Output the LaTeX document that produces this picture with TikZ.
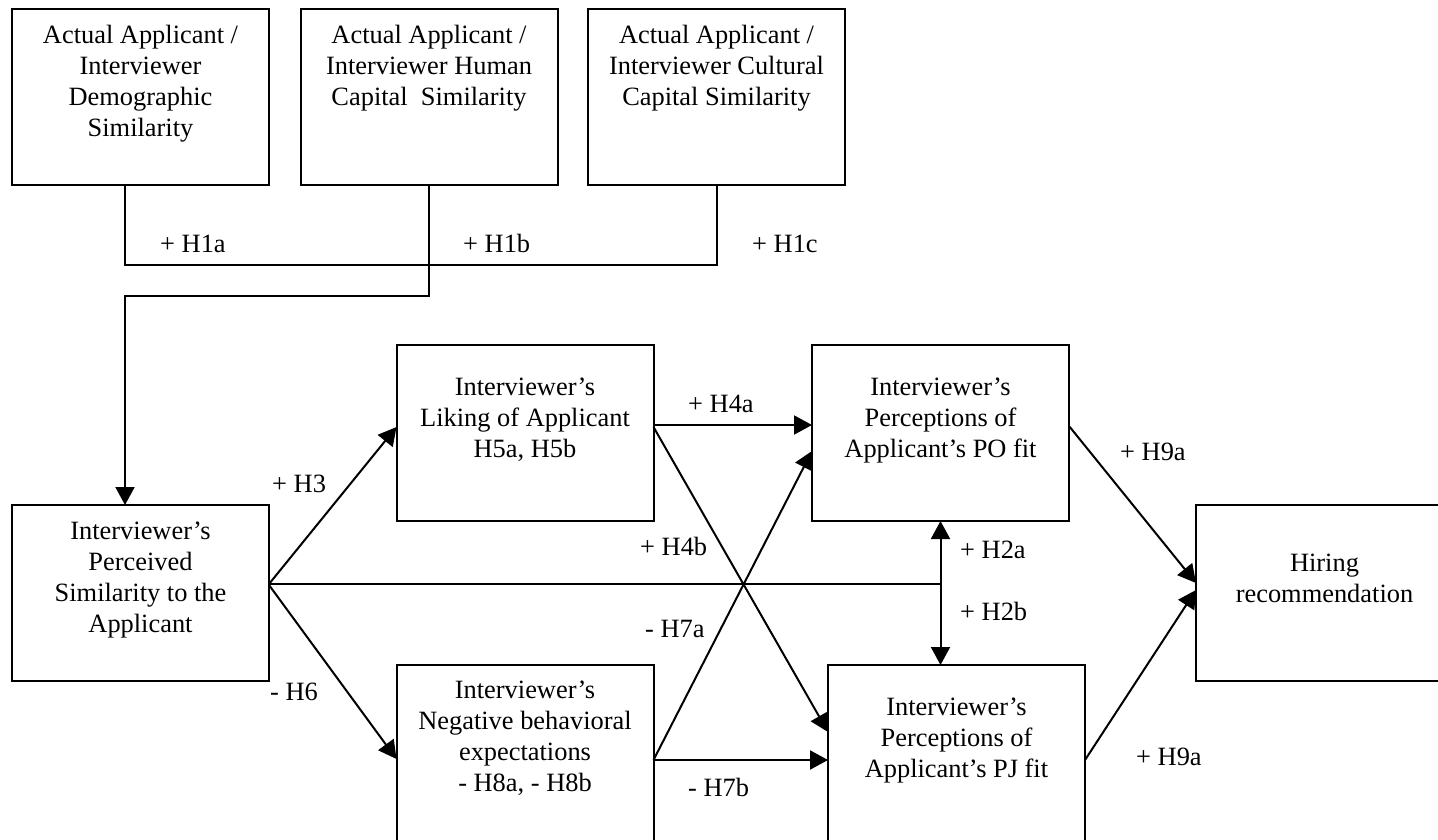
\documentclass[tikz,border=0pt]{standalone}
\usepackage{fontspec}
\setmainfont{Liberation Serif}
\usetikzlibrary{arrows.meta}
\begin{document}
\begin{tikzpicture}[x=1pt,y=-1pt,
  box/.style={draw, line width=2pt, minimum width=257pt, minimum height=176pt, inner sep=0pt, outer sep=0pt},
  txt/.style={font=\fontsize{26.4}{31}\selectfont, align=center, inner sep=0pt, anchor=north},
  lab/.style={font=\fontsize{26.4}{31}\selectfont, inner sep=0pt, anchor=base west},
  con/.style={line width=2pt},
  arr/.style={con, -{Triangle[length=18pt,width=19pt]}}]
\useasboundingbox (0,0) rectangle (1438,840);
\clip (0,0) rectangle (1438,840);
% boxes
\node[box] (A) at (140.5,97) {};
\node[box] (B) at (429,97) {};
\node[box] (C) at (716.5,97) {};
\node[box] (Perc) at (140.5,593) {};
\node[box] (Liking) at (525,433) {};
\node[box] (PO) at (940.5,433) {};
\node[box] (Neg) at (525,753) {};
\node[box] (PJ) at (956.5,753) {};
\node[box] (Hiring) at (1324.5,593) {};
% box texts
\node[txt] (At) at ([yshift=-12.3pt]A.north) {\strut Actual Applicant /\\Interviewer\\Demographic\\Similarity};
\node[txt] (Bt) at ([yshift=-12.3pt]B.north) {\strut Actual Applicant /\\Interviewer Human\\Capital\ \ Similarity};
\node[txt] (Ct) at ([yshift=-12.3pt]C.north) {\strut Actual Applicant /\\Interviewer Cultural\\Capital Similarity};
\node[txt] (Perct) at ([yshift=-12.3pt]Perc.north) {\strut Interviewer’s\\Perceived\\Similarity to the\\Applicant};
\node[txt] (Likingt) at ([yshift=-28.3pt]Liking.north) {\strut Interviewer’s\\Liking of Applicant\\H5a, H5b};
\node[txt] (POt) at ([yshift=-28.3pt]PO.north) {\strut Interviewer’s\\Perceptions of\\Applicant’s PO fit};
\node[txt] (Negt) at ([yshift=-11.3pt]Neg.north) {\strut Interviewer’s\\Negative behavioral\\expectations\\- H8a, - H8b};
\node[txt] (PJt) at ([yshift=-28.3pt]PJ.north) {\strut Interviewer’s\\Perceptions of\\Applicant’s PJ fit};
\node[txt] (Hiringt) at ([yshift=-44.3pt]Hiring.north) {\strut Hiring\\recommendation};
% top connectors
\coordinate (jx) at (125,0);
\coordinate (j1) at (717,265);
\coordinate (j2) at (0,296);
\draw[con] (A.south -| jx) |- (j1) -- (C.south -| j1);
\draw[arr] (B.south) |- (j2 -| jx) -- (Perc.north -| jx);
% from perceived similarity
\coordinate (s) at ([yshift=9pt]Perc.east);
\draw[arr] (s) -- ([yshift=6pt]Liking.west);
\draw[arr] ([yshift=8pt]Perc.east) -- ([yshift=-6pt]Neg.west);
\draw[con] (s) -- (s -| PO.south);
\draw[arr] (s -| PO.south) -- (PO.south);
\draw[arr] (s -| PO.south) -- (PJ.north -| PO.south);
% liking
\draw[arr] ([yshift=8pt]Liking.east) -- ([yshift=8pt]PO.west);
\draw[arr] ([yshift=6pt]Liking.east) -- ([yshift=21pt]PJ.west);
% negative
\draw[arr] ([yshift=-7pt]Neg.east) -- ([yshift=-18pt]PO.west);
\draw[arr] ([yshift=-7pt]Neg.east) -- ([yshift=-7pt]PJ.west);
% to hiring
\draw[arr] ([yshift=7pt]PO.east) -- ([yshift=10pt]Hiring.west);
\draw[arr] ([yshift=-7pt]PJ.east) -- ([yshift=3pt]Hiring.west);
% labels
\node[lab] (l1a) at (160,252) {+ H1a};
\node[lab] (l1b) at (463,252) {+ H1b};
\node[lab] (l1c) at (752,252) {+ H1c};
\node[lab] (l3) at (272,492) {+ H3};
\node[lab] (l6) at (270,700) {- H6};
\node[lab] (l4a) at (688,412) {+ H4a};
\node[lab] (l4b) at (640,555) {+ H4b};
\node[lab] (l7a) at (645,637) {- H7a};
\node[lab] (l7b) at (688,796) {- H7b};
\node[lab] (l2a) at (960,558) {+ H2a};
\node[lab] (l2b) at (960,620) {+ H2b};
\node[lab] (l9a) at (1120,460) {+ H9a};
\node[lab] (l9b) at (1136,765) {+ H9a};
\end{tikzpicture}
\end{document}
